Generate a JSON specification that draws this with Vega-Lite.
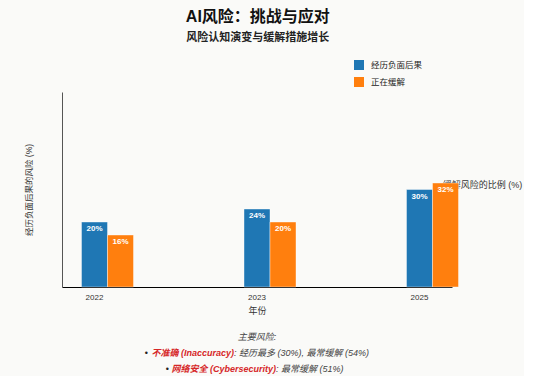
{
  "$schema": "https://vega.github.io/schema/vega-lite/v6.json",
  "background": "#fafaf8",
  "padding": {"left": 24, "top": 9, "right": 2, "bottom": 2},
  "config": {
    "font": "Liberation Sans, Noto Sans CJK SC, sans-serif",
    "view": {"stroke": null}
  },
  "title": {
    "text": "AI风险：挑战与应对",
    "subtitle": "风险认知演变与缓解措施增长",
    "fontSize": 16,
    "fontWeight": "bold",
    "color": "#111",
    "subtitleFontSize": 11,
    "subtitleFontWeight": "bold",
    "subtitleColor": "#222",
    "subtitlePadding": 7,
    "anchor": "middle",
    "offset": 17,
    "dx": -15
  },
  "spacing": 18,
  "vconcat": [
    {
      "width": 390,
      "height": 195,
      "data": {
        "values": [
          {"year": "2022", "series": "经历负面后果", "value": 20, "label": "20%"},
          {"year": "2022", "series": "正在缓解", "value": 16, "label": "16%"},
          {"year": "2023", "series": "经历负面后果", "value": 24, "label": "24%"},
          {"year": "2023", "series": "正在缓解", "value": 20, "label": "20%"},
          {"year": "2025", "series": "经历负面后果", "value": 30, "label": "30%"},
          {"year": "2025", "series": "正在缓解", "value": 32, "label": "32%"}
        ]
      },
      "encoding": {
        "x": {
          "field": "year",
          "type": "nominal",
          "scale": {"type": "band", "paddingInner": 0.84, "paddingOuter": 0.12},
          "axis": {
            "title": "年份",
            "labelAngle": 0,
            "ticks": false,
            "domainColor": "#000",
            "labelFontSize": 8,
            "labelColor": "#333",
            "labelPadding": 6,
            "titleFontSize": 9,
            "titleFontWeight": "normal",
            "titleColor": "#333",
            "titlePadding": 5
          }
        },
        "xOffset": {
          "field": "series",
          "type": "nominal",
          "scale": {"domain": ["经历负面后果", "正在缓解"], "range": [0, 52], "paddingInner": 0, "paddingOuter": 0}
        }
      },
      "layer": [
        {
          "mark": {"type": "bar", "stroke": "white", "strokeOpacity": 0.4, "strokeWidth": 1},
          "encoding": {
            "y": {
              "field": "value",
              "type": "quantitative",
              "scale": {"domain": [0, 60]},
              "axis": {
                "title": "经历负面后果的风险 (%)",
                "labels": false,
                "ticks": false,
                "grid": false,
                "domainColor": "#555",
                "titleFontSize": 8.5,
                "titleFontWeight": "normal",
                "titleColor": "#333",
                "titlePadding": 29,
                "zindex": 0
              }
            },
            "color": {
              "field": "series",
              "type": "nominal",
              "scale": {"domain": ["经历负面后果", "正在缓解"], "range": ["#1f77b4", "#ff7f0e"]},
              "legend": {
                "orient": "none",
                "legendX": 292,
                "legendY": -32,
                "title": null,
                "symbolType": "square",
                "symbolSize": 100,
                "symbolStrokeWidth": 0,
                "labelFontSize": 8.5,
                "labelColor": "#222",
                "labelOffset": 7,
                "rowPadding": 7,
                "padding": 0
              }
            }
          }
        },
        {
          "mark": {"type": "text", "color": "white", "fontWeight": "bold", "fontSize": 8, "baseline": "top", "dy": 3},
          "encoding": {
            "y": {
              "field": "value",
              "type": "quantitative",
              "scale": {"domain": [0, 60]},
              "axis": {
                "orient": "right",
                "title": "缓解风险的比例 (%)",
                "titleAngle": 0,
                "labels": false,
                "ticks": false,
                "domain": false,
                "grid": false,
                "titleFontSize": 9,
                "titleFontWeight": "normal",
                "titleColor": "#333",
                "titlePadding": 30,
                "zindex": 0
              }
            },
            "text": {"field": "label"}
          }
        }
      ],
      "resolve": {"scale": {"y": "independent"}}
    },
    {
      "width": 390,
      "height": 32,
      "data": {
        "values": [
          {"line": "0", "head": "主要风险:"},
          {"line": "1", "bullet": "•", "red": "不准确 (Inaccuracy)", "rest": ": 经历最多 (30%), 最常缓解 (54%)"},
          {"line": "2", "bullet": "•", "red": "网络安全 (Cybersecurity)", "rest": ": 最常缓解 (51%)"}
        ]
      },
      "encoding": {
        "y": {"field": "line", "type": "ordinal", "scale": {"type": "point", "padding": 0}, "axis": null}
      },
      "layer": [
        {
          "transform": [{"filter": "datum.line === '0'"}],
          "mark": {"type": "text", "fontSize": 9, "fontStyle": "italic", "color": "#444", "align": "center", "baseline": "middle"},
          "encoding": {"text": {"field": "head"}}
        },
        {
          "transform": [{"filter": "datum.line === '1'"}],
          "mark": {"type": "text", "fontSize": 9, "fontStyle": "italic", "fontWeight": "bold", "color": "#d62728", "align": "right", "baseline": "middle", "dx": -23},
          "encoding": {"text": {"field": "red"}}
        },
        {
          "transform": [{"filter": "datum.line === '1'"}],
          "mark": {"type": "text", "fontSize": 9, "fontStyle": "italic", "color": "#444", "align": "left", "baseline": "middle", "dx": -23},
          "encoding": {"text": {"field": "rest"}}
        },
        {
          "transform": [{"filter": "datum.line === '1'"}],
          "mark": {"type": "text", "fontSize": 9, "color": "#222", "align": "right", "baseline": "middle", "dx": -109},
          "encoding": {"text": {"field": "bullet"}}
        },
        {
          "transform": [{"filter": "datum.line === '2'"}],
          "mark": {"type": "text", "fontSize": 9, "fontStyle": "italic", "fontWeight": "bold", "color": "#d62728", "align": "right", "baseline": "middle", "dx": 19},
          "encoding": {"text": {"field": "red"}}
        },
        {
          "transform": [{"filter": "datum.line === '2'"}],
          "mark": {"type": "text", "fontSize": 9, "fontStyle": "italic", "color": "#444", "align": "left", "baseline": "middle", "dx": 19},
          "encoding": {"text": {"field": "rest"}}
        },
        {
          "transform": [{"filter": "datum.line === '2'"}],
          "mark": {"type": "text", "fontSize": 9, "color": "#222", "align": "right", "baseline": "middle", "dx": -88},
          "encoding": {"text": {"field": "bullet"}}
        }
      ]
    }
  ]
}
